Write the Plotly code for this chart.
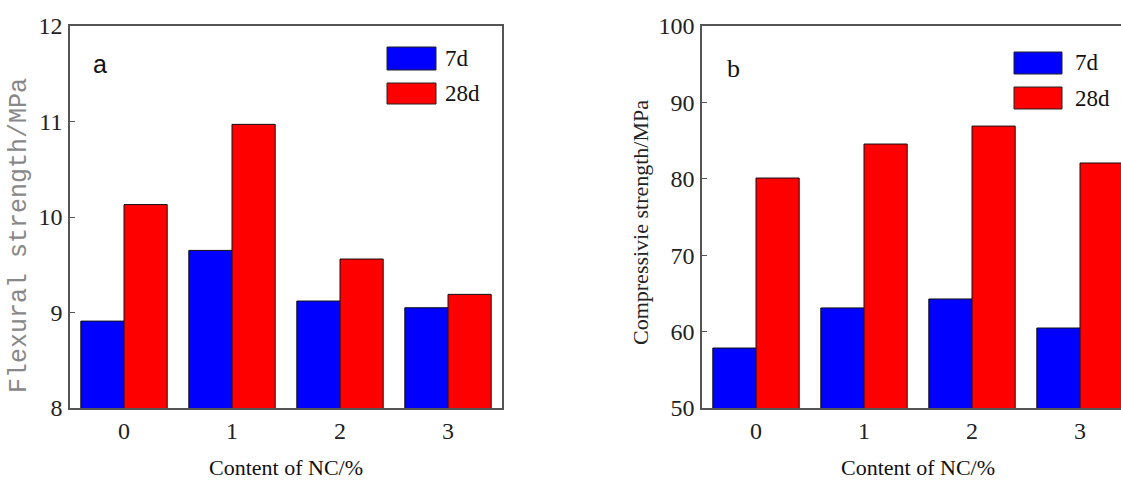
import plotly.graph_objects as go

categories = ["0", "1", "2", "3"]
flex_7d = [8.91, 9.65, 9.12, 9.05]
flex_28d = [10.13, 10.97, 9.56, 9.19]
comp_7d = [57.85, 63.1, 64.27, 60.47]
comp_28d = [80.1, 84.55, 86.9, 82.07]
series_names = ["7d", "28d"]
colors = ["#0000FF", "#FF0000"]

x_idx = list(range(len(categories)))

fig = go.Figure()
for vals, name, col in zip([flex_7d, flex_28d], series_names, colors):
    fig.add_trace(go.Bar(x=x_idx, y=vals, name=name, marker=dict(color=col, line=dict(color="#111", width=1)),
                         xaxis="x", yaxis="y", showlegend=False, offsetgroup=name))
for vals, name, col in zip([comp_7d, comp_28d], series_names, colors):
    fig.add_trace(go.Bar(x=x_idx, y=vals, name=name, marker=dict(color=col, line=dict(color="#111", width=1)),
                         xaxis="x2", yaxis="y2", showlegend=False, offsetgroup=name))

W, H = 1121, 480
serif = "Liberation Serif, Times New Roman, serif"
tickfont = dict(family=serif, size=24, color="#222")
axcol = "#555"

common_x = dict(tickmode="array", tickvals=x_idx, ticktext=categories, ticks="", showline=True,
                linecolor=axcol, linewidth=1.5, showgrid=False, zeroline=False, tickfont=tickfont,
                automargin=False, ticklabelstandoff=0)
common_y = dict(ticks="inside", ticklen=5, tickcolor=axcol, showline=True, linecolor=axcol, linewidth=1.5,
                showgrid=False, zeroline=False, tickfont=tickfont, automargin=False, ticklabelstandoff=1)

fig.update_layout(
    width=W, height=H, margin=dict(l=0, r=0, t=0, b=0, autoexpand=False),
    paper_bgcolor="white", plot_bgcolor="white",
    barmode="group", bargap=0.2, bargroupgap=0,
    xaxis=dict(domain=[70 / W, 502 / W], range=[-0.5, 3.5], mirror=True, anchor="y", **common_x),
    yaxis=dict(domain=[72 / H, 454 / H], range=[8, 12], dtick=1, mirror=True, anchor="x", **common_y),
    xaxis2=dict(domain=[702 / W, 1.0], range=[-0.5, -0.5 + 419 / 108], mirror=True, anchor="y2", **common_x),
    yaxis2=dict(domain=[72 / H, 454 / H], range=[50, 100], dtick=10, mirror=False, anchor="x2", **common_y),
)

def pa(text, x, y, font, **kw):
    d = dict(text=text, x=x / W, y=(H - y) / H, xref="paper", yref="paper", showarrow=False,
             xanchor="center", yanchor="middle", font=font)
    d.update(kw)
    return d

ann = []
ann.append(pa("Content of NC/%", 286, 467, dict(family=serif, size=22, color="#111")))
ann.append(pa("Content of NC/%", 918, 467, dict(family=serif, size=22, color="#111")))
ann.append(pa("Flexural strength/MPa", 19, 236,
              dict(family="Liberation Mono, Courier New, monospace", size=25, color="#888"), textangle=-90))
ann.append(pa("Compressivie strength/MPa", 640, 223, dict(family=serif, size=22, color="#222"), textangle=-90))
ann.append(pa("a", 100, 64, dict(family="Liberation Sans, Arial, sans-serif", size=25, color="#111")))
ann.append(pa("b", 733, 68, dict(family=serif, size=26, color="#111")))

shapes = []
legend_pos = [
    (387, 436, [(47, 70), (83, 104)], 443),
    (1014, 1062, [(52, 74), (87, 109)], 1073),
]
for x0, x1, ys, tx in legend_pos:
    for (y0, y1), name, col in zip(ys, series_names, colors):
        shapes.append(dict(type="rect", xref="paper", yref="paper", x0=x0 / W, x1=x1 / W,
                           y0=(H - y1) / H, y1=(H - y0) / H, fillcolor=col, line=dict(color="#222", width=1)))
        ann.append(pa(name, tx, (y0 + y1) / 2, dict(family=serif, size=23, color="#111"), xanchor="left"))

fig.update_layout(annotations=ann, shapes=shapes)
fig.write_html("out.html")
